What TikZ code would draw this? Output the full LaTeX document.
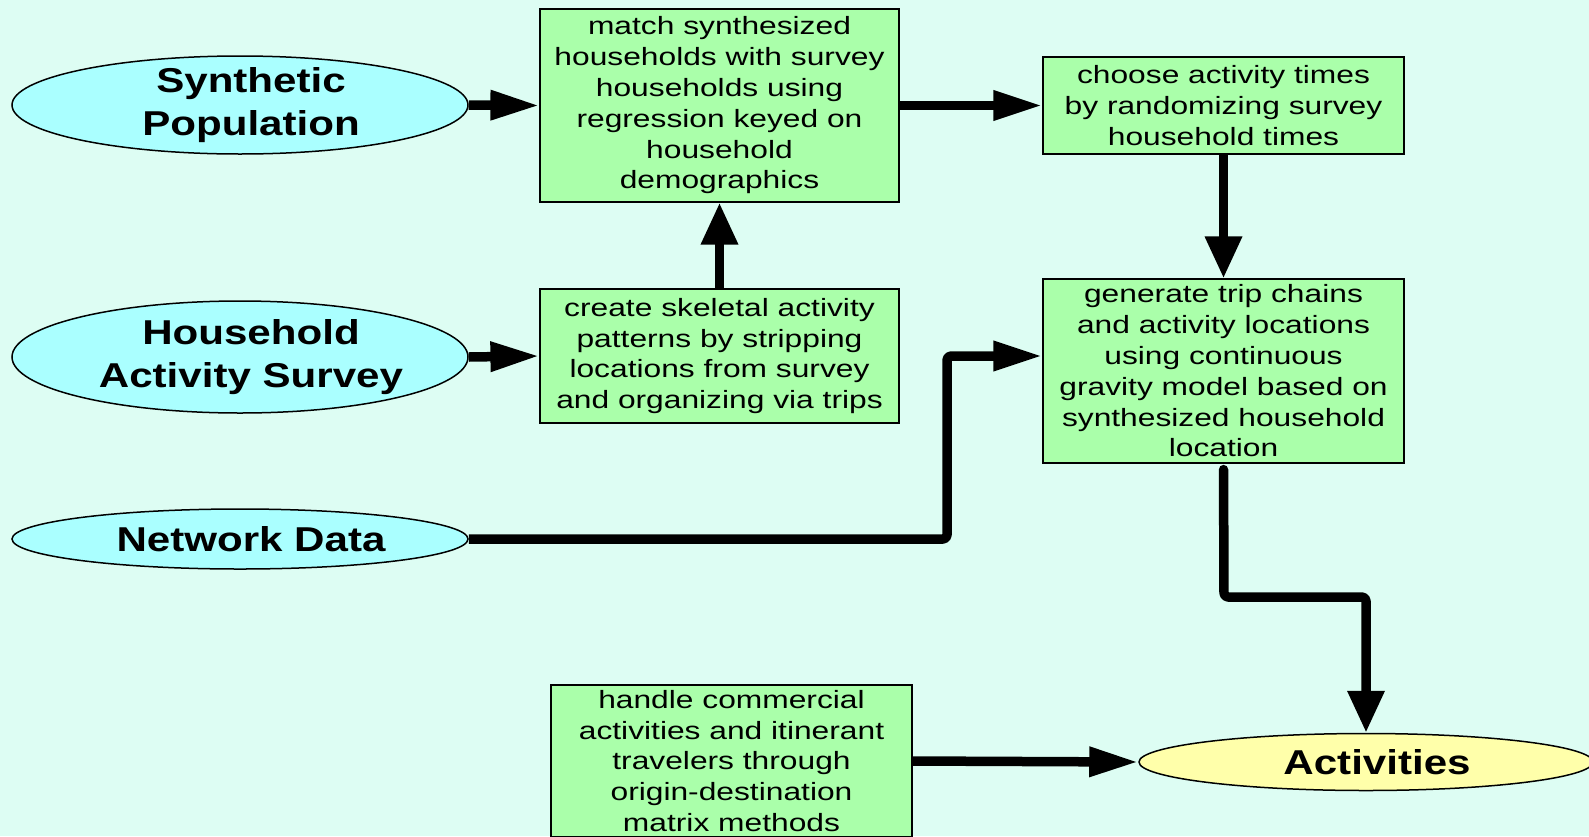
\documentclass[tikz,border=0pt]{standalone}
\usepackage{fontspec}
\setmainfont{Liberation Sans}
\newfontfamily\stepfont[FakeStretch=1.27]{Liberation Sans}
\newfontfamily\srcfont[FakeStretch=1.22]{Liberation Sans}
\usetikzlibrary{shapes.geometric,arrows.meta}
\definecolor{bgcol}{HTML}{DDFDF3}
\definecolor{srcfill}{HTML}{AAFFFF}
\definecolor{boxfill}{HTML}{AAFFAA}
\definecolor{outfill}{HTML}{FFFFAA}
\begin{document}
\begin{tikzpicture}[x=1pt,y=-1pt,
  srcnode/.style={ellipse,draw=black,line width=1.5pt,fill=srcfill,inner sep=0pt},
  srctext/.style={align=center,inner sep=0pt,xshift=11pt,
    font={\srcfont\bfseries\fontsize{34.5pt}{42.5pt}\selectfont}},
  stepbox/.style={rectangle,draw=black,line width=1.2pt,fill=boxfill,inner sep=0pt,
    align=center,font={\stepfont\fontsize{25pt}{30.8pt}\selectfont}},
  flow/.style={line width=9.5pt,line cap=butt,line join=round,rounded corners=4pt},
  hhead/.style={-{Triangle[length=49pt,width=28pt]}},
  vhead/.style={-{Triangle[length=42pt,width=35pt]}}]
  \fill[bgcol] (0,0) rectangle (1589,836);
  \useasboundingbox (0,0) rectangle (1589,836);

  % input data sets
  \node[srcnode,minimum width=456pt,minimum height=98pt,
    label={[srctext]center:Synthetic\\Population}] (sp) at (240,105) {};
  \node[srcnode,minimum width=456pt,minimum height=112pt,
    label={[srctext]center:Household\\Activity Survey}] (has) at (240,357) {};
  \node[srcnode,minimum width=456pt,minimum height=60pt,
    label={[srctext]center:Network Data}] (net) at (240,539) {};

  % result
  \node[srcnode,fill=outfill,minimum width=454pt,minimum height=57pt,
    label={[srctext]center:Activities}] (act) at (1366,762) {};

  % processing steps
  \node[stepbox,minimum width=359pt,minimum height=193pt] (match) at (719.5,105.5)
    {match synthesized\\households with survey\\households using\\regression keyed on\\household\\demographics};
  \node[stepbox,minimum width=361pt,minimum height=97pt] (times) at (1223.5,105.5)
    {choose activity times\\by randomizing survey\\household times};
  \node[stepbox,minimum width=359pt,minimum height=134pt] (skel) at (719.5,356)
    {create skeletal activity\\patterns by stripping\\locations from survey\\and organizing via trips};
  \node[stepbox,minimum width=361pt,minimum height=184pt] (gen) at (1223.5,371)
    {generate trip chains\\and activity locations\\using continuous\\gravity model based on\\synthesized household\\location};
  \node[stepbox,minimum width=361pt,minimum height=152pt] (comm) at (731.5,761)
    {handle commercial\\activities and itinerant\\travelers through\\origin-destination\\matrix methods};

  % bends of the routed connectors
  \coordinate (k1) at (947,356);
  \coordinate (k2) at (1224,597);

  % connectors
  \draw[flow,hhead] (sp.east) -- (match.west);
  \draw[flow,hhead] (match.east) -- (times.west);
  \draw[flow,vhead] (times.south) -- (gen.north);
  \draw[flow,hhead] (has.east) -- (skel.west);
  \draw[flow,vhead] (skel.north) -- (match.south);
  \draw[flow,hhead] (net.east) -| (k1) -- (k1 -| gen.west);
  \draw[flow,vhead,line cap=round,shorten <=6pt] (gen.south) -- (k2) -| (act.north);
  \draw[flow,hhead] (comm.east) -- (act.west);
\end{tikzpicture}
\end{document}
